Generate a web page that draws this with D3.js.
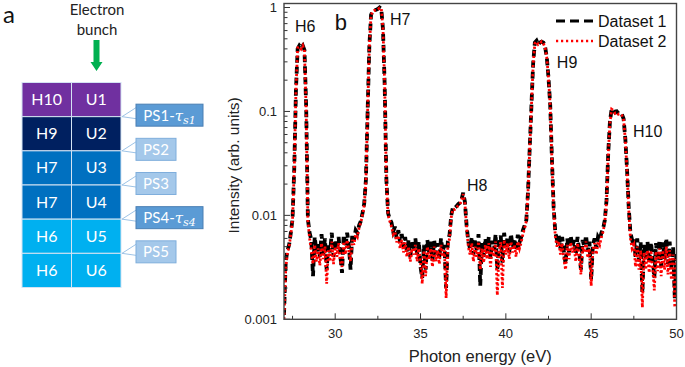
<!DOCTYPE html>
<html>
<head>
<meta charset="utf-8">
<script src="https://cdn.jsdelivr.net/npm/d3@7"></script>
<style>
  html, body { margin: 0; padding: 0; background: #fff; }
  svg { display: block; }
</style>
</head>
<body>
<div id="chart"></div>
<script>
// ---- panel a: undulator line ----
const harmonics = ['H10', 'H9', 'H7', 'H7', 'H6', 'H6'];
const undulators = ['U1', 'U2', 'U3', 'U4', 'U5', 'U6'];
const rowColors = ['#7030A0', '#002060', '#0070C0', '#0070C0', '#00B0F0', '#00B0F0'];
const shifters = ['PS1', 'PS2', 'PS3', 'PS4', 'PS5'];
const shifterTau = ['s1', null, null, 's4', null];

// ---- panel b: spectra (photon energy in eV, intensity arb. units) ----
const energy = [
  27.0, 27.1, 27.2, 27.3, 27.4, 27.5, 27.6, 27.7, 27.8, 27.9,
  28.0, 28.1, 28.2, 28.3, 28.4, 28.5, 28.6, 28.7, 28.8, 28.9,
  29.0, 29.1, 29.2, 29.3, 29.4, 29.5, 29.6, 29.7, 29.8, 29.9,
  30.0, 30.1, 30.2, 30.3, 30.4, 30.5, 30.6, 30.7, 30.8, 30.9,
  31.0, 31.1, 31.2, 31.3, 31.4, 31.5, 31.6, 31.7, 31.8, 31.9,
  32.0, 32.1, 32.2, 32.3, 32.4, 32.5, 32.6, 32.7, 32.8, 32.9,
  33.0, 33.1, 33.2, 33.3, 33.4, 33.5, 33.6, 33.7, 33.8, 33.9,
  34.0, 34.1, 34.2, 34.3, 34.4, 34.5, 34.6, 34.7, 34.8, 34.9,
  35.0, 35.1, 35.2, 35.3, 35.4, 35.5, 35.6, 35.7, 35.8, 35.9,
  36.0, 36.1, 36.2, 36.3, 36.4, 36.5, 36.6, 36.7, 36.8, 36.9,
  37.0, 37.1, 37.2, 37.3, 37.4, 37.5, 37.6, 37.7, 37.8, 37.9,
  38.0, 38.1, 38.2, 38.3, 38.4, 38.5, 38.6, 38.7, 38.8, 38.9,
  39.0, 39.1, 39.2, 39.3, 39.4, 39.5, 39.6, 39.7, 39.8, 39.9,
  40.0, 40.1, 40.2, 40.3, 40.4, 40.5, 40.6, 40.7, 40.8, 40.9,
  41.0, 41.1, 41.2, 41.3, 41.4, 41.5, 41.6, 41.7, 41.8, 41.9,
  42.0, 42.1, 42.2, 42.3, 42.4, 42.5, 42.6, 42.7, 42.8, 42.9,
  43.0, 43.1, 43.2, 43.3, 43.4, 43.5, 43.6, 43.7, 43.8, 43.9,
  44.0, 44.1, 44.2, 44.3, 44.4, 44.5, 44.6, 44.7, 44.8, 44.9,
  45.0, 45.1, 45.2, 45.3, 45.4, 45.5, 45.6, 45.7, 45.8, 45.9,
  46.0, 46.1, 46.2, 46.3, 46.4, 46.5, 46.6, 46.7, 46.8, 46.9,
  47.0, 47.1, 47.2, 47.3, 47.4, 47.5, 47.6, 47.7, 47.8, 47.9,
  48.0, 48.1, 48.2, 48.3, 48.4, 48.5, 48.6, 48.7, 48.8, 48.9,
  49.0, 49.1, 49.2, 49.3, 49.4, 49.5, 49.6, 49.7, 49.8, 49.9,
  50.0
];

const dataset1 = [
  0.0011, 0.0036, 0.0046, 0.0052, 0.0068, 0.0092, 0.028, 0.16, 0.40, 0.43,
  0.41, 0.43, 0.39, 0.11, 0.0092, 0.0068, 0.0058, 0.0026, 0.0062, 0.0045,
  0.0055, 0.0040, 0.0066, 0.0042, 0.0060, 0.0030, 0.0052, 0.0044, 0.0068, 0.0040,
  0.0058, 0.0046, 0.0062, 0.0041, 0.0028, 0.0065, 0.0050, 0.0068, 0.0052, 0.0030,
  0.0066, 0.0058, 0.0072, 0.0068, 0.0080, 0.0088, 0.0105, 0.013, 0.022, 0.10,
  0.42, 0.85, 0.93, 0.94, 0.95, 0.97, 1.00, 0.97, 0.62, 0.18,
  0.022, 0.0105, 0.0092, 0.0085, 0.0070, 0.0078, 0.0060, 0.0072, 0.0055, 0.0066,
  0.0050, 0.0062, 0.0045, 0.0058, 0.0040, 0.0055, 0.0048, 0.0060, 0.0042, 0.0056,
  0.0032, 0.0025, 0.0052, 0.0030, 0.0058, 0.0044, 0.0056, 0.0036, 0.0058, 0.0042,
  0.0054, 0.0038, 0.0060, 0.0045, 0.0052, 0.0020, 0.0056, 0.0065, 0.0100, 0.0120,
  0.0118, 0.0122, 0.0128, 0.0132, 0.0142, 0.0165, 0.0135, 0.0080, 0.0056, 0.0048,
  0.0062, 0.0042, 0.0058, 0.0045, 0.0066, 0.0021, 0.0055, 0.0040, 0.0060, 0.0044,
  0.0062, 0.0038, 0.0057, 0.0046, 0.0066, 0.0030, 0.0052, 0.0064, 0.0035, 0.0068,
  0.0048, 0.0062, 0.0044, 0.0066, 0.0050, 0.0060, 0.0046, 0.0065, 0.0055, 0.0062,
  0.0072, 0.0080, 0.0090, 0.017, 0.045, 0.115, 0.29, 0.46, 0.48, 0.44,
  0.46, 0.47, 0.46, 0.42, 0.33, 0.21, 0.115, 0.035, 0.012, 0.0068,
  0.0058, 0.0064, 0.0048, 0.0062, 0.0045, 0.0034, 0.0060, 0.0044, 0.0064, 0.0050,
  0.0058, 0.0042, 0.0062, 0.0046, 0.0030, 0.0058, 0.0050, 0.0064, 0.0045, 0.0056,
  0.0024, 0.0052, 0.0060, 0.0048, 0.0062, 0.0058, 0.0068, 0.0075, 0.0090, 0.014,
  0.040, 0.080, 0.106, 0.104, 0.098, 0.100, 0.096, 0.097, 0.094, 0.085,
  0.055, 0.028, 0.012, 0.0068, 0.0058, 0.0062, 0.0040, 0.0060, 0.0036, 0.0055,
  0.0018, 0.0052, 0.0038, 0.0056, 0.0035, 0.0055, 0.0040, 0.0025, 0.0054, 0.0036,
  0.0058, 0.0032, 0.0055, 0.0038, 0.0060, 0.0034, 0.0056, 0.0030, 0.0050, 0.0016,
  0.0045
];

const dataset2 = [
  0.0010, 0.0030, 0.0044, 0.0050, 0.0066, 0.0090, 0.027, 0.16, 0.41, 0.42,
  0.40, 0.43, 0.38, 0.10, 0.0090, 0.0060, 0.0046, 0.0034, 0.0052, 0.0036,
  0.0048, 0.0033, 0.0054, 0.0038, 0.0050, 0.0022, 0.0046, 0.0036, 0.0056, 0.0034,
  0.0050, 0.0040, 0.0054, 0.0036, 0.0032, 0.0056, 0.0042, 0.0058, 0.0046, 0.0036,
  0.0058, 0.0052, 0.0066, 0.0062, 0.0076, 0.0085, 0.0100, 0.0125, 0.021, 0.10,
  0.41, 0.84, 0.92, 0.94, 0.94, 0.96, 0.99, 0.98, 0.63, 0.18,
  0.021, 0.0100, 0.0088, 0.0078, 0.0066, 0.0070, 0.0055, 0.0064, 0.0048, 0.0058,
  0.0044, 0.0055, 0.0040, 0.0050, 0.0036, 0.0048, 0.0042, 0.0052, 0.0036, 0.0048,
  0.0036, 0.0022, 0.0046, 0.0026, 0.0050, 0.0038, 0.0048, 0.0032, 0.0050, 0.0036,
  0.0046, 0.0034, 0.0052, 0.0040, 0.0046, 0.0016, 0.0050, 0.0060, 0.0096, 0.0115,
  0.0114, 0.0118, 0.0124, 0.0128, 0.0138, 0.0160, 0.0130, 0.0078, 0.0050, 0.0042,
  0.0054, 0.0036, 0.0050, 0.0040, 0.0056, 0.0030, 0.0048, 0.0035, 0.0052, 0.0038,
  0.0054, 0.0032, 0.0050, 0.0040, 0.0056, 0.0017, 0.0046, 0.0055, 0.0020, 0.0058,
  0.0042, 0.0054, 0.0038, 0.0056, 0.0044, 0.0052, 0.0040, 0.0056, 0.0048, 0.0055,
  0.0066, 0.0075, 0.0088, 0.017, 0.044, 0.113, 0.28, 0.45, 0.47, 0.44,
  0.45, 0.47, 0.45, 0.41, 0.33, 0.21, 0.112, 0.034, 0.0115, 0.0062,
  0.0050, 0.0056, 0.0042, 0.0054, 0.0038, 0.0030, 0.0052, 0.0038, 0.0055, 0.0044,
  0.0050, 0.0036, 0.0054, 0.0040, 0.0027, 0.0050, 0.0044, 0.0056, 0.0039, 0.0048,
  0.0021, 0.0046, 0.0054, 0.0042, 0.0056, 0.0052, 0.0062, 0.0070, 0.0086, 0.0135,
  0.039, 0.078, 0.105, 0.102, 0.096, 0.098, 0.094, 0.095, 0.092, 0.083,
  0.054, 0.027, 0.0115, 0.0060, 0.0048, 0.0052, 0.0032, 0.0050, 0.0030, 0.0046,
  0.0013, 0.0044, 0.0030, 0.0046, 0.0028, 0.0046, 0.0032, 0.0019, 0.0045, 0.0029,
  0.0048, 0.0026, 0.0046, 0.0030, 0.0050, 0.0027, 0.0046, 0.0024, 0.0042, 0.0013,
  0.0038
];

const xTicks = [30, 35, 40, 45, 50];
const xMinorTicks = [27.5, 32.5, 37.5, 42.5, 47.5];
const yTicks = [0.001, 0.01, 0.1, 1];
const yTickLabels = ['0.001', '0.01', '0.1', '1'];
const peakNames = ['H6', 'H7', 'H8', 'H9', 'H10'];
const seriesNames = ['Dataset 1', 'Dataset 2'];

const W = 685, H = 367;
const SANS = "'Liberation Sans', Arial, sans-serif";
const SCHEME_FONT = "Lato, 'Open Sans', sans-serif";

const svg = d3.select('#chart').append('svg')
  .attr('width', W).attr('height', H)
  .attr('viewBox', `0 0 ${W} ${H}`);
svg.append('rect').attr('width', W).attr('height', H).attr('fill', '#fff');

drawSchematic(svg.append('g'));
drawSpectrum(svg.append('g'));


function drawSchematic(g) {
  const rowY = d3.scaleBand().domain(d3.range(harmonics.length)).range([82.5, 287.5]);
  const colX = d3.scaleBand().domain(['harm', 'und']).range([22, 121]);

  g.append('text').attr('x', 3).attr('y', 23)
    .attr('font-family', SCHEME_FONT).attr('font-size', 24).attr('fill', '#111')
    .text('a');

  const title = g.append('text').attr('text-anchor', 'middle')
    .attr('font-family', SCHEME_FONT).attr('font-size', 15).attr('fill', '#222');
  title.append('tspan').attr('x', 97).attr('y', 15).text('Electron');
  title.append('tspan').attr('x', 97).attr('y', 35).text('bunch');

  // green arrow
  g.append('path')
    .attr('d', 'M93.5,40 L99.5,40 L99.5,62 L102.5,62 L96.5,71 L90.5,62 L93.5,62 Z')
    .attr('fill', '#00B050');

  const rows = g.selectAll('.row')
    .data(harmonics.map((h, i) => ({ h, u: undulators[i], c: rowColors[i], i })))
    .join('g').attr('class', 'row');

  ['harm', 'und'].forEach(col => {
    rows.append('rect')
      .attr('x', colX(col)).attr('y', d => rowY(d.i))
      .attr('width', colX.bandwidth()).attr('height', rowY.bandwidth())
      .attr('fill', d => d.c)
      .attr('stroke', '#d4e3f3').attr('stroke-width', 1);
    rows.append('text')
      .attr('x', colX(col) + colX.bandwidth() / 2)
      .attr('y', d => rowY(d.i) + rowY.bandwidth() / 2 + 5.5)
      .attr('text-anchor', 'middle')
      .attr('font-family', SCHEME_FONT).attr('font-size', 16).attr('fill', '#fff')
      .text(d => col === 'harm' ? d.h : d.u);
  });

  // phase shifter callouts sit on the boundaries between undulators
  const right = colX.range()[1];
  const boxX = 136;
  const ps = g.selectAll('.ps')
    .data(shifters.map((name, i) => ({
      name, tau: shifterTau[i],
      yb: rowY(i) + rowY.bandwidth()
    })))
    .join('g').attr('class', 'ps');

  ps.append('polyline')
    .attr('points', d => `${boxX},${d.yb - 9} ${right + 1},${d.yb} ${boxX},${d.yb + 2}`)
    .attr('fill', 'none').attr('stroke', '#9DC3E6').attr('stroke-width', 1);

  ps.append('rect')
    .attr('x', boxX).attr('y', d => d.yb - 12.5)
    .attr('width', d => d.tau ? 67 : 40).attr('height', 22)
    .attr('fill', d => d.tau ? '#5B9BD5' : '#A4C8EA')
    .attr('stroke', d => d.tau ? '#4A7FB3' : '#7FAEDC').attr('stroke-width', 1);

  const label = ps.append('text')
    .attr('x', d => boxX + (d.tau ? 33.5 : 20))
    .attr('y', d => d.yb + 4)
    .attr('text-anchor', 'middle')
    .attr('font-family', SCHEME_FONT).attr('font-size', 15).attr('fill', '#fff');
  label.append('tspan').text(d => d.tau ? d.name + '-' : d.name);
  label.filter(d => d.tau).append('tspan')
    .attr('font-family', "'DejaVu Serif', serif").attr('font-style', 'italic')
    .text('τ');
  label.filter(d => d.tau).append('tspan')
    .attr('font-family', "'DejaVu Serif', serif").attr('font-style', 'italic')
    .attr('font-size', 11).attr('dy', 3)
    .text(d => d.tau);
}


function drawSpectrum(g) {
  const left = 284, rightEdge = 676.5, top = 3.5, bottom = 319.3;
  const x = d3.scaleLinear().domain([27, 50]).range([left, rightEdge]);
  const y = d3.scaleLog().domain([0.001, 1.093]).range([bottom, top]);

  const points = energy.map((e, i) => ({ e, a: dataset1[i], b: dataset2[i] }));

  g.append('clipPath').attr('id', 'plot-clip')
    .append('rect').attr('x', left).attr('y', top)
    .attr('width', rightEdge - left).attr('height', bottom - top);

  const plot = g.append('g').attr('clip-path', 'url(#plot-clip)');
  const line1 = d3.line().x(d => x(d.e)).y(d => y(d.a));
  const line2 = d3.line().x(d => x(d.e)).y(d => y(d.b));

  plot.append('path').datum(points).attr('d', line1)
    .attr('fill', 'none').attr('stroke', '#000')
    .attr('stroke-width', 3.8).attr('stroke-dasharray', '7,4');
  plot.append('path').datum(points).attr('d', line2)
    .attr('fill', 'none').attr('stroke', '#f00')
    .attr('stroke-width', 2.8).attr('stroke-dasharray', '2.2,2.4');

  // ticks point inward
  const minorY = [];
  [0.001, 0.01, 0.1].forEach(dec => d3.range(2, 10).forEach(k => minorY.push(dec * k)));

  const tickLayer = g.append('g').attr('stroke', '#333').attr('stroke-width', 1);
  tickLayer.selectAll('.ymaj').data(yTicks).join('line')
    .attr('x1', left).attr('x2', left + 6)
    .attr('y1', d => y(d)).attr('y2', d => y(d));
  tickLayer.selectAll('.ymin').data(minorY).join('line')
    .attr('x1', left).attr('x2', left + 3.5)
    .attr('y1', d => y(d)).attr('y2', d => y(d));
  tickLayer.selectAll('.xmaj').data(xTicks).join('line')
    .attr('x1', d => x(d)).attr('x2', d => x(d))
    .attr('y1', bottom).attr('y2', bottom - 6);
  tickLayer.selectAll('.xmin').data(xMinorTicks).join('line')
    .attr('x1', d => x(d)).attr('x2', d => x(d))
    .attr('y1', bottom).attr('y2', bottom - 3.5);

  g.append('rect')
    .attr('x', left).attr('y', top)
    .attr('width', rightEdge - left).attr('height', bottom - top)
    .attr('fill', 'none').attr('stroke', '#444').attr('stroke-width', 1.4);

  g.selectAll('.ylab').data(yTicks).join('text')
    .attr('x', left - 7).attr('y', d => y(d) + 4.5)
    .attr('text-anchor', 'end')
    .attr('font-family', SANS).attr('font-size', 13).attr('fill', '#222')
    .text((d, i) => yTickLabels[i]);

  g.selectAll('.xlab').data(xTicks).join('text')
    .attr('x', d => x(d)).attr('y', bottom + 19)
    .attr('text-anchor', 'middle')
    .attr('font-family', SANS).attr('font-size', 13).attr('fill', '#222')
    .text(d => d);

  g.append('text')
    .attr('x', (left + rightEdge) / 2).attr('y', 362)
    .attr('text-anchor', 'middle')
    .attr('font-family', SANS).attr('font-size', 16.5).attr('fill', '#222')
    .text('Photon energy (eV)');

  g.append('text')
    .attr('transform', `translate(239,${(top + bottom) / 2 + 4}) rotate(-90)`)
    .attr('text-anchor', 'middle')
    .attr('font-family', SANS).attr('font-size', 15.5).attr('fill', '#222')
    .text('Intensity (arb. units)');

  // harmonic labels, anchored in data units
  const peakAnchors = [[27.64, 0.58], [33.21, 0.68], [37.72, 0.0171], [42.99, 0.262], [47.45, 0.0567]];
  g.selectAll('.peak').data(peakNames).join('text')
    .attr('x', (d, i) => x(peakAnchors[i][0]))
    .attr('y', (d, i) => y(peakAnchors[i][1]))
    .attr('font-family', SANS).attr('font-size', 16).attr('fill', '#111')
    .text(d => d);

  g.append('text')
    .attr('x', x(29.97)).attr('y', y(0.607))
    .attr('font-family', SANS).attr('font-size', 22).attr('fill', '#111')
    .text('b');

  // legend
  const legend = g.append('g');
  const styles = [
    { stroke: '#000', width: 3.2, dash: '9,5' },
    { stroke: '#f00', width: 2.6, dash: '2.2,2.8' }
  ];
  seriesNames.forEach((name, i) => {
    const ly = 21 + i * 20;
    legend.append('line')
      .attr('x1', 556).attr('x2', 593).attr('y1', ly).attr('y2', ly)
      .attr('stroke', styles[i].stroke).attr('stroke-width', styles[i].width)
      .attr('stroke-dasharray', styles[i].dash);
    legend.append('text')
      .attr('x', 598).attr('y', ly + 5.5)
      .attr('font-family', SANS).attr('font-size', 16).attr('fill', '#111')
      .text(name);
  });
}
</script>
</body>
</html>
